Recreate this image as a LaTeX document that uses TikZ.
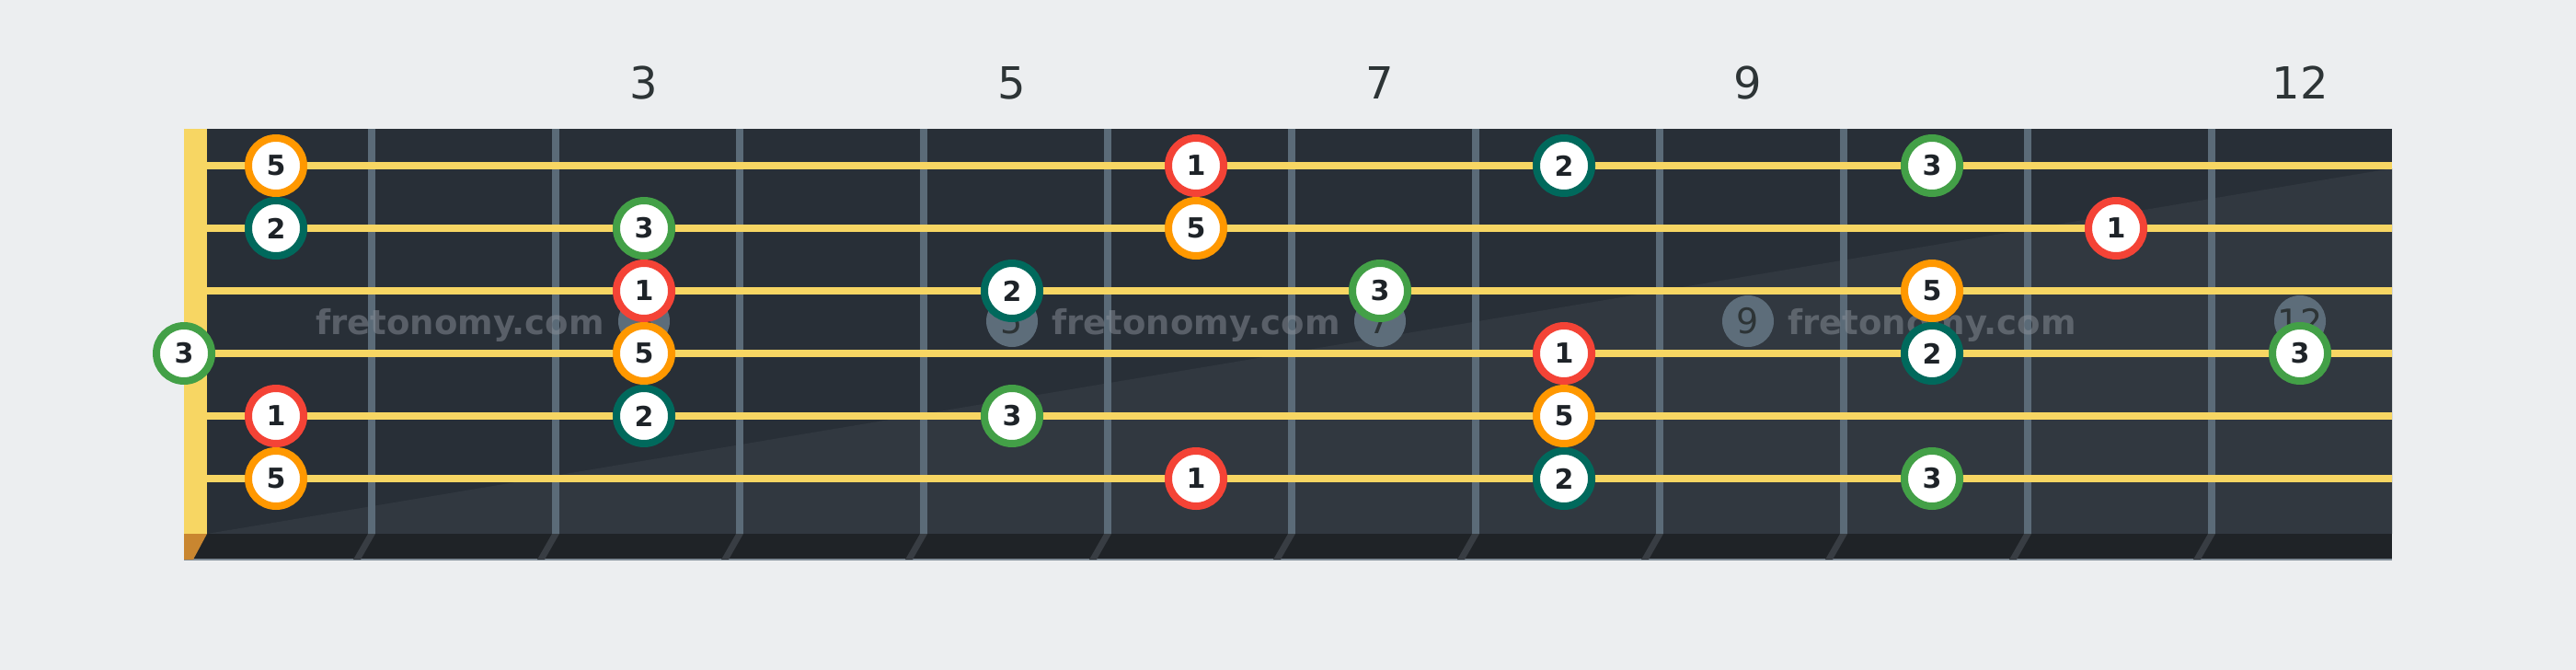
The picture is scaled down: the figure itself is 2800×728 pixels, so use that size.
\documentclass[tikz,border=0pt]{standalone}
\usepackage{fontspec}
\setmainfont{DejaVu Sans}
\definecolor{bg}{HTML}{ECEEF0}
\definecolor{board}{HTML}{282F37}
\definecolor{boardlight}{HTML}{313840}
\definecolor{strip}{HTML}{1F2327}
\definecolor{fretc}{HTML}{5B6B78}
\definecolor{stringc}{HTML}{F7D663}
\definecolor{nutbase}{HTML}{C98630}
\definecolor{fretshadow}{HTML}{383D43}
\definecolor{inlaygray}{HTML}{5D6D7A}
\definecolor{txtdark}{HTML}{1E2328}
\definecolor{labeldark}{HTML}{2D3436}
\definecolor{wmgray}{HTML}{8A9099}
\definecolor{cR}{HTML}{F44336}
\definecolor{cO}{HTML}{FF9800}
\definecolor{cT}{HTML}{00695C}
\definecolor{cG}{HTML}{43A047}
\definecolor{edge}{HTML}{7F8B96}
\begin{document}
\begin{tikzpicture}[x=1pt,y=-1pt,
  note/.style={circle,draw=#1,line width=8pt,fill=white,minimum size=60pt,inner sep=0pt,
    font=\fontsize{30}{30}\selectfont\bfseries,text=txtdark},
  inlay/.style={circle,fill=inlaygray,minimum size=56pt,inner sep=0pt,
    font=\fontsize{38}{38}\selectfont,text=labeldark},
  fretlabel/.style={font=\fontsize{48}{48}\selectfont,text=labeldark,anchor=base,inner sep=0pt},
  watermark/.style={font=\fontsize{37}{37}\selectfont\bfseries,text=wmgray,text opacity=0.5,anchor=base,inner sep=0pt},
  fretwire/.style={draw=fretc,line width=8pt},
  stringline/.style={draw=stringc,line width=8pt}
]
% background
\fill[bg] (0,0) rectangle (2800,728);
\useasboundingbox (0,0) rectangle (2800,728);
% board
\fill[board] (200,140) rectangle (2600,580);
\fill[boardlight] (225,580) -- (2600,183) -- (2600,580) -- cycle;
% bottom strip
\fill[strip] (200,580) rectangle (2600,608);
\draw[edge,line width=1.5pt] (200,608) -- (2600,608);
\fill[nutbase] (200,580) -- (225,580) -- (210,608) -- (200,608) -- cycle;
% frets
\foreach \k in {0,...,10} {
  \pgfmathsetmacro\fx{404+200*\k}
  \draw[fretwire] (\fx,140) -- (\fx,580);
  \fill[fretshadow] (\fx-4,580) -- (\fx+4,580) -- (\fx-12,608) -- (\fx-20,608) -- cycle;
}
% nut
\fill[stringc] (200,140) rectangle (225,580);
% fret labels
\foreach \n/\x in {3/700,5/1100,7/1500,9/1900,12/2500} {
  \node[fretlabel] (lab\n) at (\x,107) {\n};
}
% inlays
\foreach \n/\x in {3/700,5/1100,7/1500,9/1900,12/2500} {
  \node[inlay] (inl\n) at (\x,349) {\n};
}
% watermarks
\node[watermark] (wm1) at (500,363) {fretonomy.com};
\node[watermark] (wm2) at (1300,363) {fretonomy.com};
\node[watermark] (wm3) at (2100,363) {fretonomy.com};
% strings
\foreach \s in {1,...,6} {
  \pgfmathsetmacro\sy{180+68*(\s-1)}
  \draw[stringline] (225,\sy) -- (2600,\sy);
}
% notes: string/fret/colour/degree
\foreach \s/\f/\c/\t in {
  1/1/cO/5, 1/6/cR/1, 1/8/cT/2, 1/10/cG/3,
  2/1/cT/2, 2/3/cG/3, 2/6/cO/5, 2/11/cR/1,
  3/3/cR/1, 3/5/cT/2, 3/7/cG/3, 3/10/cO/5,
  4/3/cO/5, 4/8/cR/1, 4/10/cT/2, 4/12/cG/3,
  5/1/cR/1, 5/3/cT/2, 5/5/cG/3, 5/8/cO/5,
  6/1/cO/5, 6/6/cR/1, 6/8/cT/2, 6/10/cG/3} {
  \pgfmathsetmacro\nx{100+200*\f}
  \pgfmathsetmacro\ny{180+68*(\s-1)}
  \node[note=\c] (n\s-\f) at (\nx,\ny) {\t};
}
\node[note=cG] (n4-0) at (200,384) {3};
\end{tikzpicture}
\end{document}
